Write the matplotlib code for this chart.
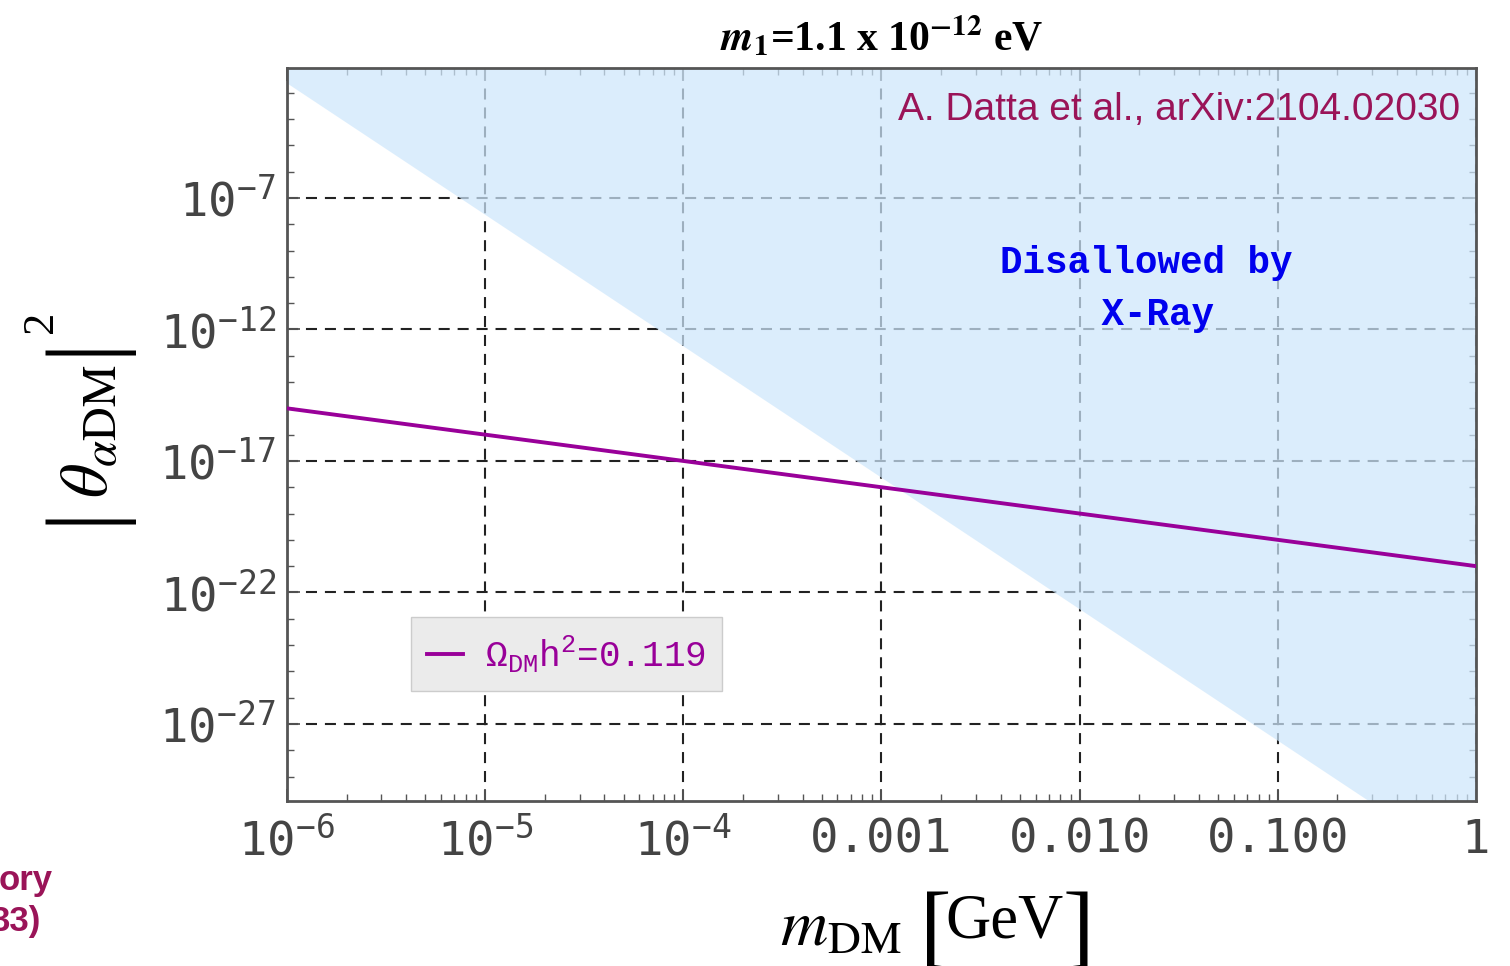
import numpy as np
import matplotlib.pyplot as plt
from matplotlib.ticker import FixedLocator, FixedFormatter

# relic line (Omega h^2 = 0.119) and x-ray bound
m_relic = [1e-6, 1.0]
theta_relic = [1e-15, 1e-21]
m_xray = [1e-6, 1.0]
theta_xray = [10**-2.63, 10**-32.63]

xticks = [1e-6, 1e-5, 1e-4, 1e-3, 1e-2, 1e-1, 1.0]
xticklabels = [r'$\mathregular{10^{-6}}$', r'$\mathregular{10^{-5}}$', r'$\mathregular{10^{-4}}$',
               '0.001', '0.010', '0.100', '1']
yticks = [1e-27, 1e-22, 1e-17, 1e-12, 1e-7]
yticklabels = [r'$\mathregular{10^{-27}}$', r'$\mathregular{10^{-22}}$', r'$\mathregular{10^{-17}}$',
               r'$\mathregular{10^{-12}}$', r'$\mathregular{10^{-7}}$']

purple = '#990099'
crimson = '#9a1458'

fig = plt.figure(figsize=(15.1, 9.66), dpi=100)
ax = fig.add_axes([0.190, 0.1708, 0.7875, 0.7588])
ax.set_xscale('log')
ax.set_yscale('log')
ax.set_xlim(1e-6, 1.0)
ax.set_ylim(10**-29.93, 10**-2.06)

# grid under the shaded region
ax.set_axisbelow(True)
ax.grid(which='major', ls=(0, (5.3, 3.8)), color='#222222', lw=1.5)
ax.grid(which='minor', visible=False)

ax.fill_between(m_xray, theta_xray, 1.0, color=(206/255, 231/255, 252/255), alpha=0.72, lw=0, zorder=1)
ax.plot(m_relic, theta_relic, color=purple, lw=2.8, zorder=3, label=r'$\mathregular{\Omega_{DM}h^2}$=0.119')

ax.xaxis.set_major_locator(FixedLocator(xticks))
ax.xaxis.set_major_formatter(FixedFormatter(xticklabels))
ax.xaxis.set_minor_locator(FixedLocator([s * 10.0**d for d in range(-6, 0) for s in range(2, 10)]))
ax.yaxis.set_major_locator(FixedLocator(yticks))
ax.yaxis.set_major_formatter(FixedFormatter(yticklabels))
ax.yaxis.set_minor_locator(FixedLocator(10.0**np.arange(-30, -1)))
ax.xaxis.set_minor_formatter(FixedFormatter([]))
ax.yaxis.set_minor_formatter(FixedFormatter([]))

ax.tick_params(which='both', direction='in', top=True, right=True, color='#555555')
ax.tick_params(which='major', length=9, width=1.3)
ax.tick_params(which='minor', length=5, width=1.0)
ax.tick_params(axis='x', pad=12)
ax.tick_params(axis='y', pad=8)
for lab in ax.get_xticklabels() + ax.get_yticklabels():
    lab.set_fontfamily('DejaVu Sans Mono')
    lab.set_fontsize(34)
    lab.set_color('#444444')
for sp in ax.spines.values():
    sp.set_color('#555555')
    sp.set_linewidth(2)

leg = ax.legend(loc='lower left', bbox_to_anchor=(0.104, 0.15), prop={'family': 'Liberation Mono', 'size': 26},
                frameon=True, fancybox=False, framealpha=1, facecolor='#ebebeb', edgecolor='#cccccc',
                handlelength=1.0, handletextpad=0.6, borderpad=0.45, borderaxespad=0)
for t in leg.get_texts():
    t.set_color(purple)

ax.text(0.9866, 0.9427, 'A. Datta et al., arXiv:2104.02030', transform=ax.transAxes, ha='right', va='center',
        fontsize=28, family='Liberation Sans', color=crimson)
ax.text(0.7225, 0.6985, 'Disallowed by\n X-Ray', transform=ax.transAxes, ha='center', va='center',
        fontsize=27, family='Liberation Mono', fontweight='bold', color='#0000ee', linespacing=1.6)

# title
fig.text(0.5835, 0.962, r'$\mathbfit{m}_\mathbf{1}$=1.1 x 10$^\mathbf{-12}$ eV', ha='center', va='center',
         fontsize=30, family='Liberation Serif', fontweight='bold', math_fontfamily='stix')

# x label with tall brackets
fig.text(0.557, 0.040, r'$m_{\mathrm{DM}}$', ha='center', va='center', fontsize=47, math_fontfamily='stix')
fig.text(0.620, 0.033, '[', ha='center', va='center', fontsize=68, family='Liberation Serif')
fig.text(0.665, 0.045, 'GeV', ha='center', va='center', fontsize=45, family='Liberation Serif')
fig.text(0.714, 0.033, ']', ha='center', va='center', fontsize=68, family='Liberation Serif')

# y label with tall bars
fig.text(0.059, 0.554, r'$\theta_{\alpha\mathrm{DM}}$', ha='center', va='center', rotation=90,
         fontsize=48, math_fontfamily='stix')
fig.text(0.056, 0.468, '|', ha='center', va='center', rotation=90, fontsize=72, family='Liberation Serif')
fig.text(0.056, 0.643, '|', ha='center', va='center', rotation=90, fontsize=72, family='Liberation Serif')
fig.text(0.027, 0.667, '2', ha='center', va='center', rotation=90, fontsize=32, family='Liberation Serif')

fig.text(0.035, 0.089, 'ory', ha='right', va='center', fontsize=25, family='Liberation Sans',
         fontweight='bold', color=crimson)
fig.text(0.027, 0.046, '33)', ha='right', va='center', fontsize=25, family='Liberation Sans',
         fontweight='bold', color=crimson)

fig.savefig('out.png', dpi=100)
